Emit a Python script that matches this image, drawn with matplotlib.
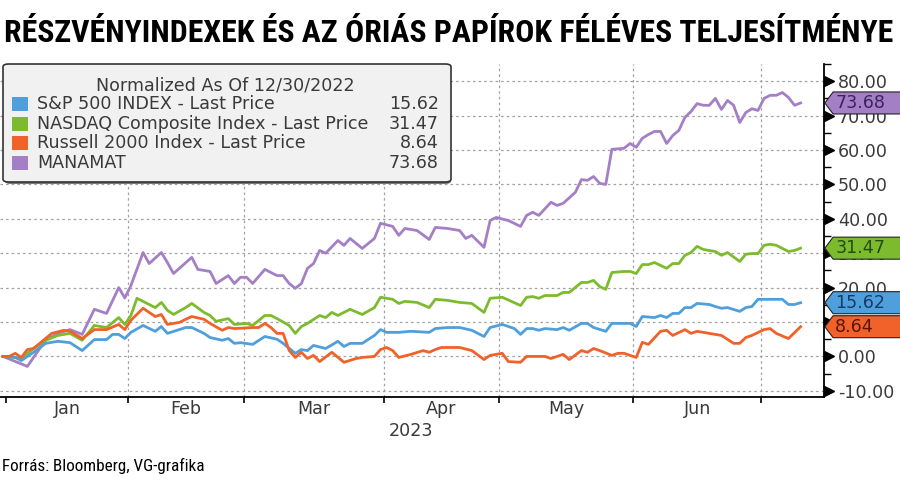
import matplotlib
matplotlib.use('Agg')
import matplotlib.pyplot as plt
import matplotlib.transforms as mtransforms
from matplotlib import font_manager as fm
from matplotlib.patches import Polygon, FancyBboxPatch, Rectangle

TITLE = "RÉSZVÉNYINDEXEK ÉS AZ ÓRIÁS PAPÍROK FÉLÉVES TELJESÍTMÉNYE"
SOURCE = "Forrás: Bloomberg, VG-grafika"
LEGEND_TITLE = "Normalized As Of 12/30/2022"

# x = kereskedési nap sorszáma (0 = 2022-12-30)
spx_days = [0, 2, 3, 5, 7, 9, 11, 13, 15, 17, 18, 19, 20, 21, 23, 25, 26, 27, 30, 31,
            33, 34, 36, 37, 38, 39, 41, 43, 45, 46, 48, 49, 50, 51, 53, 55, 56, 57, 59, 61,
            62, 63, 65, 67, 70, 71, 73, 75, 77, 79, 80, 82, 84, 85, 86, 87, 88, 89, 91, 92,
            93, 95, 96, 97, 99, 100, 103, 104, 105, 107, 108, 109, 110, 111, 112, 113, 114, 116, 117, 118,
            119, 121, 122, 123, 124, 126, 128, 129, 130, 131]
spx_vals = [0, -0.3, -1.2, 1.2, 3.8, 4.4, 4.0, 1.7, 4.9, 4.9, 6.4, 6.4, 5.2, 7.0, 9.0, 7.3, 8.7, 6.7, 8.4, 8.4,
            6.7, 5.5, 4.7, 5.2, 3.8, 4.0, 3.5, 5.8, 5.0, 3.8, 0.9, 2.0, 1.7, 3.2, 2.3, 4.4, 2.9, 3.8, 3.8, 6.1,
            7.8, 7.0, 7.0, 7.3, 7.0, 8.1, 8.4, 8.4, 7.6, 5.8, 8.4, 9.3, 8.1, 6.4, 8.1, 8.1, 7.6, 8.1, 7.8, 8.4,
            7.6, 9.6, 9.6, 8.4, 7.3, 9.6, 9.6, 8.7, 11.6, 11.3, 11.9, 11.3, 12.5, 12.5, 14.2, 14.2, 15.4, 15.1, 14.5, 14.0,
            14.2, 13.1, 14.2, 14.5, 16.6, 16.6, 16.6, 15.1, 15.1, 15.62]

ndx_days = [0, 2, 3, 5, 7, 9, 11, 13, 15, 17, 19, 20, 21, 22, 25, 26, 27, 28, 30, 31,
            33, 34, 35, 37, 38, 40, 41, 43, 44, 45, 47, 48, 49, 50, 52, 53, 54, 55, 57, 59,
            61, 62, 64, 65, 66, 68, 70, 71, 73, 75, 77, 79, 80, 82, 85, 86, 87, 88, 89, 91,
            92, 93, 95, 96, 97, 98, 99, 100, 102, 103, 104, 105, 106, 107, 109, 110, 111, 112, 113, 114,
            115, 117, 118, 119, 121, 122, 123, 124, 125, 126, 127, 129, 130, 131]
ndx_vals = [0, -0.3, -0.6, 2.3, 4.7, 6.1, 6.7, 4.7, 9.0, 8.4, 11.3, 9.3, 11.9, 16.9, 14.2, 15.7, 13.4, 12.2, 14.2, 15.4,
            12.8, 11.9, 10.2, 11.0, 9.3, 9.6, 9.0, 11.9, 11.9, 11.0, 9.0, 6.7, 8.7, 9.6, 11.9, 11.3, 12.8, 11.9, 13.7, 12.2,
            14.2, 17.2, 16.6, 15.4, 16.0, 15.7, 14.2, 16.6, 16.3, 15.7, 15.4, 12.8, 16.9, 17.2, 14.8, 17.2, 17.4, 16.9, 17.7, 17.7,
            18.6, 18.6, 21.5, 21.5, 22.1, 20.3, 19.5, 24.4, 24.7, 24.7, 24.1, 26.7, 26.7, 27.3, 25.6, 27.0, 27.0, 29.4, 30.2, 32.0,
            31.1, 30.5, 29.4, 30.2, 27.6, 29.7, 29.9, 29.9, 32.3, 32.6, 32.3, 30.5, 30.8, 31.47]

rty_days = [0, 1, 2, 3, 4, 5, 8, 10, 11, 13, 15, 17, 19, 20, 21, 23, 25, 26, 27, 29,
            30, 31, 33, 34, 36, 37, 38, 41, 42, 43, 44, 45, 46, 47, 48, 49, 50, 51, 52, 54,
            56, 58, 59, 61, 62, 63, 64, 65, 67, 69, 70, 71, 72, 74, 75, 77, 79, 80, 82, 83,
            85, 86, 88, 89, 90, 92, 93, 95, 96, 97, 98, 100, 101, 102, 104, 105, 106, 108, 109, 110,
            112, 113, 114, 116, 118, 120, 121, 122, 123, 125, 126, 127, 129, 131]
rty_vals = [0, 0, 0.9, -0.3, 2.0, 2.3, 6.7, 7.6, 7.3, 5.2, 7.8, 7.8, 9.3, 7.8, 10.5, 14.0, 11.6, 12.2, 9.3, 9.9,
            10.8, 11.6, 10.8, 9.6, 7.6, 8.4, 8.1, 8.4, 8.4, 9.6, 8.4, 6.7, 6.7, 1.7, -0.3, 1.2, -0.6, 0.3, -1.5, 1.2,
            -1.7, -0.6, -0.3, 0.0, 2.0, 2.6, 1.7, -0.3, 0.6, 1.7, 1.2, 2.0, 2.6, 2.6, 2.6, 1.7, -0.9, 0.3, 0.9, -1.5,
            -1.7, 0.0, 0.0, 0.0, -0.6, 0.6, -0.9, 1.7, 1.2, 2.3, 1.7, 0.3, 0.9, 0.9, -0.3, 4.1, 3.5, 7.3, 7.6, 6.1,
            7.8, 6.7, 7.3, 6.7, 6.1, 3.8, 3.8, 5.5, 6.1, 7.8, 8.1, 6.7, 5.2, 8.64]

mnm_days = [0, 4, 5, 7, 9, 11, 13, 15, 17, 19, 20, 21, 23, 24, 26, 27, 28, 31, 32, 34,
            35, 37, 38, 39, 40, 41, 43, 44, 45, 46, 47, 48, 49, 50, 51, 52, 53, 55, 56, 57,
            59, 61, 62, 64, 65, 66, 68, 70, 71, 73, 75, 76, 77, 79, 80, 81, 83, 85, 86, 87,
            88, 90, 91, 92, 94, 95, 96, 97, 98, 99, 100, 102, 103, 104, 105, 106, 107, 108, 109, 110,
            111, 112, 113, 114, 115, 116, 117, 118, 119, 120, 121, 122, 123, 124, 125, 126, 127, 128, 129, 130, 131]
mnm_vals = [0, -2.9, -0.3, 4.7, 6.7, 7.8, 6.4, 13.7, 12.5, 20.0, 17.0, 20.6, 30.2, 27.0, 30.2, 27.3, 24.1, 28.8, 25.3, 24.7,
            21.2, 23.5, 21.2, 23.0, 23.0, 21.2, 25.3, 24.4, 23.5, 23.5, 21.2, 19.8, 21.2, 25.6, 27.0, 30.8, 30.0, 33.7, 32.3, 34.3,
            31.4, 34.3, 38.7, 37.8, 35.2, 37.2, 36.6, 34.0, 37.5, 37.2, 36.6, 34.3, 35.2, 31.7, 39.5, 40.4, 39.5, 37.8, 41.0, 41.9,
            41.0, 44.8, 43.9, 44.5, 47.7, 51.4, 51.2, 52.3, 50.3, 50.0, 60.2, 60.5, 61.9, 60.8, 63.4, 64.5, 65.4, 65.4, 61.9, 64.2,
            65.7, 69.5, 71.2, 73.5, 73.0, 73.0, 75.0, 71.8, 74.4, 73.0, 68.0, 70.9, 72.0, 71.5, 75.0, 75.9, 75.9, 76.7, 75.3, 73.0, 73.68]

series_names = ["S&P 500 INDEX - Last Price", "NASDAQ Composite Index - Last Price",
                "Russell 2000 Index - Last Price", "MANAMAT"]
series_days = [spx_days, ndx_days, rty_days, mnm_days]
series_vals = [spx_vals, ndx_vals, rty_vals, mnm_vals]
last_values = [15.62, 31.47, 8.64, 73.68]
line_colors = ["#4f9fdc", "#7dbb2e", "#f0622a", "#a47fc6"]
tag_text_colors = ["#163b66", "#234d0e", "#5a1406", "#3e2260"]

month_labels = ["Jan", "Feb", "Mar", "Apr", "May", "Jun"]
month_bounds = [0.5, 20.5, 39.5, 62.5, 81.5, 103.5, 124.5]
year_label = "2023"
y_ticks = [-10, 0, 10, 20, 30, 40, 50, 60, 70, 80]

TXT = "#3a3a3a"
FS = 12.6  # tengely- és jelmagyarázat-betűméret
plt.rcParams['font.family'] = ['DejaVu Sans']


def find_narrow_font(bold):
    """Keskeny (condensed/narrow) betűtípus fájl keresése, ha van telepítve."""
    prefs = ['roboto', 'open sans', 'noto sans', 'dejavu', 'liberation', 'lato', 'inter']
    best = None
    for f in fm.fontManager.ttflist:
        n = (f.name + ' ' + f.fname).lower()
        st = str(f.stretch).lower()
        narrow = ('condensed' in n or 'narrow' in n or 'condensed' in st or 'narrow' in st)
        if not narrow or 'extra' in st or 'ultra' in st or 'semi' in n or 'italic' in n or 'oblique' in n:
            continue
        if 'cjk' in n or 'mono' in n:
            continue
        w = f.weight if isinstance(f.weight, int) else {'bold': 700, 'normal': 400, 'regular': 400}.get(str(f.weight).lower(), 400)
        isbold = w >= 600 or 'bold' in f.fname.lower()
        if isbold != bold:
            continue
        if w in (700, 400) or ('bold' in f.fname.lower()) == bold:
            rank = next((k for k, p in enumerate(prefs) if p in n), len(prefs))
            if best is None or rank < best[0]:
                best = (rank, f.fname)
    if best:
        return fm.FontProperties(fname=best[1])
    return fm.FontProperties(family='DejaVu Sans', weight='bold' if bold else 'normal')


def fit_text(fig, txt, width_px):
    """Betűméret igazítása a kívánt szélességhez."""
    r = fig.canvas.get_renderer()
    for _ in range(3):
        w = txt.get_window_extent(renderer=r).width
        txt.set_fontsize(txt.get_fontsize() * width_px / w)


fig = plt.figure(figsize=(9.0, 4.82), dpi=100)
ax = fig.add_axes([0.0, 0.1763, 0.9156, 0.6909])

# rács
for yv in y_ticks:
    ax.axhline(yv, color="#a0a0a0", lw=0.9, ls=(0, (2, 2.5)), zorder=1)
for xv in month_bounds[1:]:
    ax.axvline(xv, color="#a0a0a0", lw=0.9, ls=(0, (2, 2.5)), zorder=1)

# sorozatok (az MANAMAT legfelül)
for i in [3, 1, 0, 2]:
    ax.plot(series_days[i], series_vals[i], color=line_colors[i], lw=2.0,
            solid_joinstyle='round', zorder=3)

ax.set_xlim(-0.5, 134.85)
ax.set_ylim(-11.8, 85)

for s in ['top', 'left']:
    ax.spines[s].set_visible(False)
for s in ['right', 'bottom']:
    ax.spines[s].set_color('black')
    ax.spines[s].set_linewidth(1.3)

# y tengely jobb oldalon, háromszög jelölőkkel
ax.yaxis.tick_right()
ax.set_yticks(y_ticks)
ax.set_yticklabels([f"{v:.2f}" for v in y_ticks])
ax.set_yticks([v + 5 for v in y_ticks], minor=True)
ax.tick_params(axis='y', which='major', length=0, pad=10, labelsize=FS, labelcolor=TXT)
ax.tick_params(axis='y', which='minor', length=5, width=1, color='black', direction='out')

bl = mtransforms.blended_transform_factory(ax.transAxes, ax.transData)
ax.plot([1.006] * len(y_ticks), y_ticks, ls='none', marker='>', ms=7, color='black',
        transform=bl, clip_on=False, zorder=4)

# x tengely: hónaphatárok + középre írt hónapnevek
ax.set_xticks(month_bounds)
ax.set_xticklabels([])
ax.set_xticks([(month_bounds[k] + month_bounds[k + 1]) / 2 for k in range(6)], minor=True)
ax.set_xticklabels(month_labels, minor=True)
ax.tick_params(axis='x', which='major', length=4, width=1.2, color='black', direction='out')
ax.tick_params(axis='x', which='minor', length=0, pad=2, labelsize=FS, labelcolor=TXT)
fig.text(411 / 900, 1 - 431 / 482, year_label, ha='center', va='center', fontsize=FS, color=TXT)

# utolsó érték címkék
tag_h = 6.4
for i in range(4):
    v = last_values[i]
    pts = [(1.001, v), (1.011, v + tag_h / 2), (1.2, v + tag_h / 2),
           (1.2, v - tag_h / 2), (1.011, v - tag_h / 2)]
    ax.add_patch(Polygon(pts, closed=True, transform=bl, clip_on=False,
                         facecolor=line_colors[i], edgecolor='#222222', lw=0.8, zorder=6))
    ax.text(1.0135, v, f"{v:.2f}", transform=bl, ha='left', va='center',
            fontsize=FS, color=tag_text_colors[i], zorder=7, clip_on=False)

# jelmagyarázat doboz (ábra koordinátákban)
W, H = 900.0, 482.0
def fx(px):
    return px / W
def fy(py):
    return 1 - py / H

shadow = FancyBboxPatch((fx(5), fy(184)), fx(451) - fx(5), fy(66) - fy(184),
                        boxstyle="round,pad=0,rounding_size=0.006", transform=fig.transFigure,
                        facecolor='#777777', edgecolor='none', zorder=8)
box = FancyBboxPatch((fx(3), fy(182)), fx(451) - fx(3), fy(64) - fy(182),
                     boxstyle="round,pad=0,rounding_size=0.006", transform=fig.transFigure,
                     facecolor='#f1f1f1', edgecolor='#333333', lw=1.2, zorder=9)
fig.patches.extend([shadow, box])

fig.text(fx(225), fy(85), LEGEND_TITLE, ha='center', va='center', fontsize=FS, color=TXT, zorder=10)
row_y = [104, 124, 143, 163]
for i in range(4):
    fig.patches.append(Rectangle((fx(12), fy(row_y[i] + 7)), fx(28) - fx(12), fy(row_y[i] - 7) - fy(row_y[i] + 7),
                                 transform=fig.transFigure, facecolor=line_colors[i],
                                 edgecolor='none', zorder=10))
    fig.text(fx(37), fy(row_y[i]), series_names[i], ha='left', va='center', fontsize=FS, color=TXT, zorder=10)
    fig.text(fx(439), fy(row_y[i]), f"{last_values[i]:.2f}", ha='right', va='center',
             fontsize=FS, color=TXT, zorder=10)

# cím és forrás
t_title = fig.text(fx(4), fy(33), TITLE, ha='left', va='center', fontsize=22,
                   fontproperties=find_narrow_font(True), color='black')
t_title.set_fontsize(22)
fit_text(fig, t_title, 888)
t_src = fig.text(fx(2), fy(466), SOURCE, ha='left', va='center',
                 fontproperties=find_narrow_font(False), color='black')
t_src.set_fontsize(13)
fit_text(fig, t_src, 203)

fig.savefig("out.png", dpi=100)
